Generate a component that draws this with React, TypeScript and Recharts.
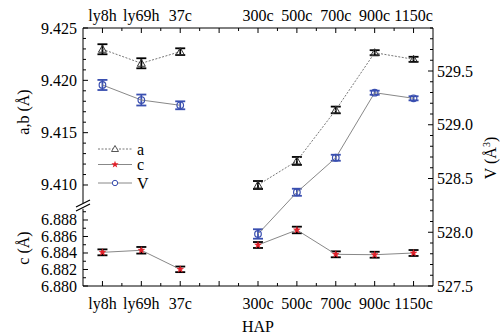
import React from 'react';
import { ComposedChart, Line, XAxis, YAxis, ErrorBar, ReferenceLine, Legend, Label } from 'recharts';

const categories = ['ly8h', 'ly69h', '37c', '', '300c', '500c', '700c', '900c', '1150c'];
const positions = [1, 2, 3, 4, 5, 6, 7, 8, 9];
const aValues = [9.42297, 9.42163, 9.42274, null, 9.41, 9.4123, 9.41717, 9.42264, 9.42201];
const aErrors = [0.00048, 0.00048, 0.00032, null, 0.00038, 0.00038, 0.00032, 0.00024, 0.00024];
const vValues = [529.37, 529.23, 529.181, null, 527.984, 528.372, 528.693, 529.298, 529.246];
const vErrors = [0.047, 0.051, 0.037, null, 0.044, 0.033, 0.028, 0.019, 0.019];
const cValues = [6.88408, 6.88433, 6.88202, null, 6.88497, 6.88679, 6.88384, 6.88379, 6.884];
const cErrors = [0.00036, 0.0004, 0.00034, null, 0.00036, 0.0004, 0.00036, 0.00036, 0.00036];

const abMajorTicks = [9.41, 9.415, 9.42, 9.425];
const cMajorTicks = [6.88, 6.882, 6.884, 6.886, 6.888];
const vMajorTicks = [527.5, 528.0, 528.5, 529.0, 529.5];

const range = (from: number, to: number, step: number, digits: number) => {
  const out: number[] = [];
  const n = Math.round((to - from) / step);
  for (let k = 0; k <= n; k++) out.push(Number((from + k * step).toFixed(digits)));
  return out;
};
const abTicks = range(9.41, 9.425, 0.001, 3);
const cTicks = range(6.88, 6.889, 0.001, 3);
const vTicks = range(527.5, 529.9, 0.1, 1);
const xTicks = range(1, 9, 0.5, 1);

const data = positions.map((x, i) => ({
  x,
  a: aValues[i],
  aErr: aErrors[i],
  V: vValues[i],
  vErr: vErrors[i],
  c: cValues[i],
  cErr: cErrors[i],
}));

const FONT = "'Liberation Serif', 'Times New Roman', serif";
const TXT = { fontFamily: FONT, fontSize: 16 };
const BLUE = '#3a4fb0';
const RED = '#e3202a';
const isIn = (v: number, list: number[]) => list.some((m) => Math.abs(m - v) < 1e-6);

const LeftTick = (props: any) => {
  const { x, y, payload, majors } = props;
  const major = isIn(payload.value, majors);
  return (
    <g>
      <line x1={x} x2={x + (major ? 5 : 3)} y1={y} y2={y} stroke="#000" strokeWidth={1} />
      {major && (
        <text x={x - 6} y={y + 5.5} textAnchor="end" style={TXT} fill="#000">
          {payload.value.toFixed(3)}
        </text>
      )}
    </g>
  );
};

const RightTick = (props: any) => {
  const { x, y, payload } = props;
  const major = isIn(payload.value, vMajorTicks);
  return (
    <g>
      <line x1={x} x2={x - (major ? 5 : 3)} y1={y} y2={y} stroke="#000" strokeWidth={1} />
      {major && (
        <text x={x + 4} y={y + 5.5} textAnchor="start" style={TXT} fill="#000">
          {payload.value.toFixed(1)}
        </text>
      )}
    </g>
  );
};

const XTick = (props: any) => {
  const { x, y, payload, side } = props;
  const v = payload.value;
  const major = Math.abs(v - Math.round(v)) < 1e-6;
  const len = major ? 5 : 3;
  const label = major ? categories[Math.round(v) - 1] : '';
  const top = side === 'top';
  return (
    <g>
      <line x1={x} x2={x} y1={y} y2={top ? y + len : y - len} stroke="#000" strokeWidth={1} />
      {label && (
        <text x={x} y={top ? y - 7.5 : y + 22.5} textAnchor="middle" style={TXT} fill="#000">
          {label}
        </text>
      )}
    </g>
  );
};

const TriangleDot = (props: any) => {
  const { cx, cy, value, index } = props;
  if (cx == null || cy == null || value == null) return <g key={`ta${index}`} />;
  return (
    <path
      key={`ta${index}`}
      d={`M${cx},${cy - 4} L${cx + 4},${cy + 3} L${cx - 4},${cy + 3} Z`}
      fill="none"
      stroke="#333"
      strokeWidth={1}
    />
  );
};

const CircleDot = (props: any) => {
  const { cx, cy, value, index } = props;
  if (cx == null || cy == null || value == null) return <g key={`cv${index}`} />;
  return <circle key={`cv${index}`} cx={cx} cy={cy} r={3.3} fill="none" stroke={BLUE} strokeWidth={1.2} />;
};

const starPath = (cx: number, cy: number, ro: number, ri: number) => {
  let d = '';
  for (let k = 0; k < 10; k++) {
    const r = k % 2 === 0 ? ro : ri;
    const ang = -Math.PI / 2 + (k * Math.PI) / 5;
    d += `${k === 0 ? 'M' : 'L'}${cx + r * Math.cos(ang)},${cy + r * Math.sin(ang)} `;
  }
  return d + 'Z';
};

const StarDot = (props: any) => {
  const { cx, cy, value, index } = props;
  if (cx == null || cy == null || value == null) return <g key={`sc${index}`} />;
  return <path key={`sc${index}`} d={starPath(cx, cy, 3.6, 1.5)} fill={RED} stroke={RED} strokeWidth={0.4} />;
};

const legendItems = [
  { key: 'a', label: 'a' },
  { key: 'c', label: 'c' },
  { key: 'V', label: 'V' },
];

const LegendContent = () => {
  const rows = [9, 24.5, 43];
  return (
    <svg width={70} height={56} style={{ display: 'block', overflow: 'visible' }}>
      {legendItems.map((it, i) => {
        const y = rows[i];
        return (
          <g key={it.key}>
            <line
              x1={8}
              x2={42}
              y1={y}
              y2={y}
              stroke={it.key === 'a' ? '#777' : '#888'}
              strokeDasharray={it.key === 'a' ? '2 1.5' : undefined}
              strokeWidth={1}
            />
            {it.key === 'a' && <path d={`M25,${y - 3.5} L28.5,${y + 2.5} L21.5,${y + 2.5} Z`} fill="#fff" stroke="#555" />}
            {it.key === 'c' && <path d={starPath(25, y, 3.8, 1.6)} fill={RED} />}
            {it.key === 'V' && <circle cx={25} cy={y} r={2.7} fill="#fff" stroke={BLUE} strokeWidth={1} />}
            <text x={47} y={y + 5.5} style={TXT} fill="#000">
              {it.label}
            </text>
          </g>
        );
      })}
    </svg>
  );
};

const abTitle = () => (
  <text x={29} y={112} transform="rotate(-90 29 112)" textAnchor="middle" style={TXT} fill="#000">
    a,b (Å)
  </text>
);
const cTitle = () => (
  <text x={29} y={248} transform="rotate(-90 29 248)" textAnchor="middle" style={TXT} fill="#000">
    c (Å)
  </text>
);
const vTitle = () => (
  <text x={496} y={158} transform="rotate(-90 496 158)" textAnchor="middle" style={TXT} fill="#000">
    V (Å<tspan dy={-6} style={{ fontSize: 10 }}>3</tspan>
    <tspan dy={6}>)</tspan>
  </text>
);
const hapTitle = () => (
  <text x={258} y={332} textAnchor="middle" style={TXT} fill="#000">
    HAP
  </text>
);

export default function App() {
  return (
    <div style={{ position: 'absolute', left: 0, top: 0, width: 504, height: 336, background: '#fff', fontFamily: FONT }}>
      <div style={{ position: 'absolute', left: 0, top: 0 }}>
        <ComposedChart width={504} height={336} data={data} margin={{ top: 8, right: 11, bottom: 50, left: 23 }}>
          <XAxis
            xAxisId="top"
            orientation="top"
            dataKey="x"
            type="number"
            domain={[0.5, 9.5]}
            allowDataOverflow
            ticks={xTicks}
            interval={0}
            height={20}
            tickSize={0}
            tickMargin={0}
            tickLine={false}
            axisLine={{ stroke: '#000' }}
            tick={(p: any) => <XTick {...p} side="top" />}
          />
          <YAxis
            yAxisId="ab"
            orientation="left"
            type="number"
            domain={[9.40035, 9.425]}
            allowDataOverflow
            ticks={abTicks}
            interval={0}
            width={60}
            tickSize={0}
            tickMargin={0}
            tickLine={false}
            axisLine={false}
            tick={(p: any) => <LeftTick {...p} majors={abMajorTicks} />}
            label={<Label content={abTitle} />}
          />
          <YAxis
            yAxisId="V"
            orientation="right"
            type="number"
            domain={[527.5, 529.9]}
            allowDataOverflow
            ticks={vTicks}
            interval={0}
            width={60}
            tickSize={0}
            tickMargin={0}
            tickLine={false}
            axisLine={{ stroke: '#000' }}
            tick={(p: any) => <RightTick {...p} />}
            label={<Label content={vTitle} />}
          />
          <ReferenceLine
            xAxisId="top"
            yAxisId="ab"
            segment={[{ x: 0.5, y: 9.425 }, { x: 0.5, y: 9.40828 }]}
            stroke="#000"
            strokeWidth={1}
            ifOverflow="visible"
          />
          <ReferenceLine
            xAxisId="top"
            yAxisId="ab"
            segment={[{ x: 0.32, y: 9.4079 }, { x: 0.68, y: 9.40857 }]}
            stroke="#000"
            strokeWidth={1.2}
            ifOverflow="visible"
          />
          <ReferenceLine
            xAxisId="top"
            yAxisId="ab"
            segment={[{ x: 0.32, y: 9.40752 }, { x: 0.68, y: 9.40819 }]}
            stroke="#000"
            strokeWidth={1.2}
            ifOverflow="visible"
          />
          <Line
            xAxisId="top"
            yAxisId="ab"
            dataKey="a"
            stroke="#777"
            strokeWidth={1}
            strokeDasharray="2 1.5"
            isAnimationActive={false}
            connectNulls={false}
            dot={TriangleDot}
            activeDot={false}
          >
            <ErrorBar dataKey="aErr" width={5} stroke="#000" strokeWidth={1.8} direction="y" />
          </Line>
          <Line
            xAxisId="top"
            yAxisId="V"
            dataKey="V"
            stroke="#888"
            strokeWidth={1}
            isAnimationActive={false}
            connectNulls={false}
            dot={CircleDot}
            activeDot={false}
          >
            <ErrorBar dataKey="vErr" width={5} stroke={BLUE} strokeWidth={1.8} direction="y" />
          </Line>
        </ComposedChart>
      </div>
      <div style={{ position: 'absolute', left: 0, top: 0 }}>
        <ComposedChart width={504} height={336} data={data} margin={{ top: 28, right: 71, bottom: 20, left: 23 }}>
          <XAxis
            xAxisId="bottom"
            orientation="bottom"
            dataKey="x"
            type="number"
            domain={[0.5, 9.5]}
            allowDataOverflow
            ticks={xTicks}
            interval={0}
            height={30}
            tickSize={0}
            tickMargin={0}
            tickLine={false}
            axisLine={{ stroke: '#000' }}
            tick={(p: any) => <XTick {...p} side="bottom" />}
            label={<Label content={hapTitle} />}
          />
          <YAxis
            yAxisId="c"
            orientation="left"
            type="number"
            domain={[6.88, 6.91127]}
            allowDataOverflow
            ticks={cTicks}
            interval={0}
            width={60}
            tickSize={0}
            tickMargin={0}
            tickLine={false}
            axisLine={false}
            tick={(p: any) => <LeftTick {...p} majors={cMajorTicks} />}
            label={<Label content={cTitle} />}
          />
          <ReferenceLine
            xAxisId="bottom"
            yAxisId="c"
            segment={[{ x: 0.5, y: 6.88 }, { x: 0.5, y: 6.88936 }]}
            stroke="#000"
            strokeWidth={1}
            ifOverflow="visible"
          />
          <Line
            xAxisId="bottom"
            yAxisId="c"
            dataKey="c"
            stroke="#888"
            strokeWidth={1}
            isAnimationActive={false}
            connectNulls={false}
            dot={StarDot}
            activeDot={false}
          >
            <ErrorBar dataKey="cErr" width={5} stroke="#000" strokeWidth={1.8} direction="y" />
          </Line>
          <Legend
            layout="vertical"
            align="center"
            verticalAlign="middle"
            content={LegendContent}
            wrapperStyle={{ left: 90, top: 140, width: 70, height: 56 }}
          />
        </ComposedChart>
      </div>
    </div>
  );
}
